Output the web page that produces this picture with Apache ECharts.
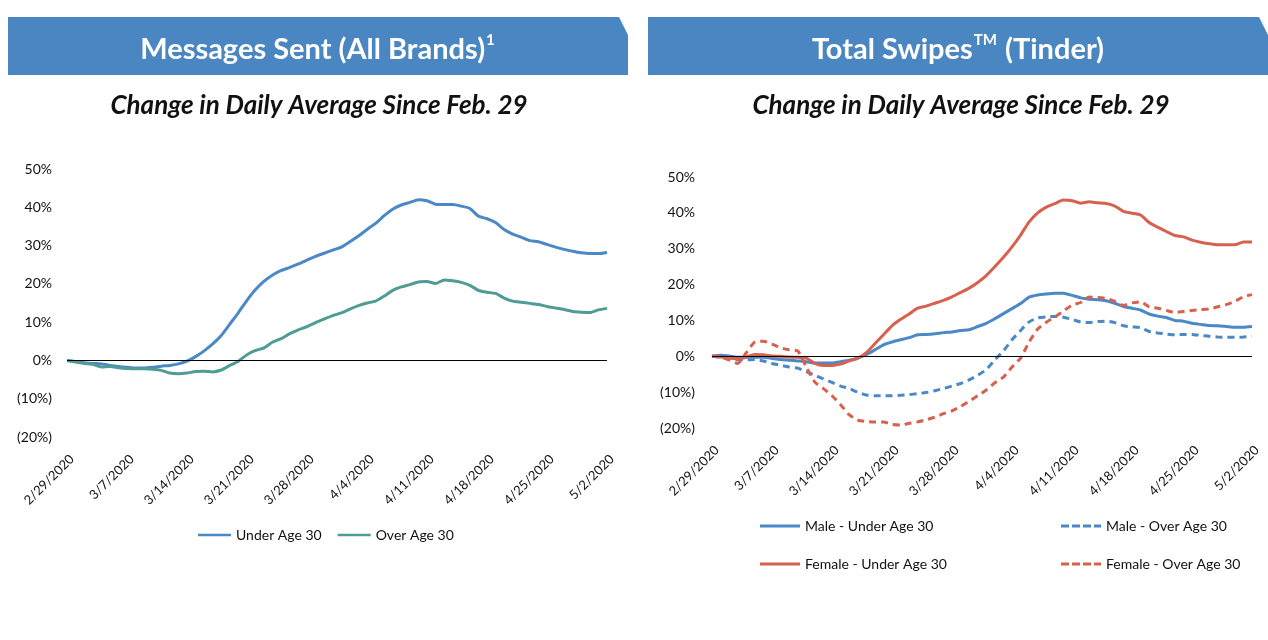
<!DOCTYPE html>
<html>
<head>
<meta charset="utf-8">
<script src="https://cdn.jsdelivr.net/npm/echarts@6/dist/echarts.min.js"></script>
<style>
html,body{margin:0;padding:0;background:#fff;}
#c{width:1268px;height:640px;}
</style>
</head>
<body>
<div id="c"></div>
<script>
// ---- Categories (daily, 2/29/2020 - 5/2/2020) ----
const dates = ['2/29/2020',
'3/1/2020','3/2/2020','3/3/2020','3/4/2020','3/5/2020','3/6/2020','3/7/2020','3/8/2020','3/9/2020','3/10/2020',
'3/11/2020','3/12/2020','3/13/2020','3/14/2020','3/15/2020','3/16/2020','3/17/2020','3/18/2020','3/19/2020','3/20/2020',
'3/21/2020','3/22/2020','3/23/2020','3/24/2020','3/25/2020','3/26/2020','3/27/2020','3/28/2020','3/29/2020','3/30/2020','3/31/2020',
'4/1/2020','4/2/2020','4/3/2020','4/4/2020','4/5/2020','4/6/2020','4/7/2020','4/8/2020','4/9/2020','4/10/2020',
'4/11/2020','4/12/2020','4/13/2020','4/14/2020','4/15/2020','4/16/2020','4/17/2020','4/18/2020','4/19/2020','4/20/2020',
'4/21/2020','4/22/2020','4/23/2020','4/24/2020','4/25/2020','4/26/2020','4/27/2020','4/28/2020','4/29/2020','4/30/2020',
'5/1/2020','5/2/2020'];

// ---- Messages Sent (All Brands), % change ----
const msgUnder30 = [0,-0.3,-0.6,-0.8,-0.9,-1.3,-1.6,-1.8,-2.0,-2.0,
-1.8,-1.5,-1.3,-0.9,-0.2,1.0,2.5,4.3,6.5,9.5,
12.5,15.7,18.5,20.7,22.3,23.5,24.3,25.2,26.2,27.2,
28.0,28.8,29.6,31.0,32.5,34.2,35.8,37.8,39.5,40.6,
41.3,42.0,41.7,40.8,40.7,40.7,40.3,39.7,37.7,37.0,
36.0,34.2,33.0,32.2,31.3,31.0,30.3,29.6,29.0,28.5,
28.1,27.9,27.9,28.2];
const msgOver30 = [0,-0.4,-0.8,-1.0,-1.7,-1.6,-1.9,-2.1,-2.2,-2.2,
-2.3,-2.6,-3.3,-3.5,-3.3,-2.9,-2.8,-3.0,-2.5,-1.3,
-0.2,1.5,2.6,3.3,4.8,5.7,7.0,8.0,8.8,9.9,
10.8,11.7,12.4,13.4,14.3,15.0,15.5,16.8,18.3,19.2,
19.8,20.5,20.6,20.1,21.0,20.8,20.4,19.6,18.3,17.8,
17.5,16.3,15.5,15.2,14.9,14.6,14.1,13.7,13.3,12.8,
12.6,12.5,13.2,13.6];

// ---- Total Swipes (Tinder), % change ----
const maleUnder30 = [0,0.3,0.1,-0.3,-0.3,-0.3,-0.3,-0.6,-0.9,-1.1,
-1.3,-1.5,-1.9,-1.9,-1.9,-1.5,-1.1,-0.5,0.5,1.8,
3.2,4.0,4.6,5.2,6.0,6.1,6.3,6.6,6.8,7.2,
7.4,8.3,9.2,10.5,11.9,13.3,14.7,16.5,17.1,17.4,
17.6,17.6,17.0,16.3,15.9,15.8,15.5,14.8,13.9,13.4,
12.9,11.8,11.2,10.8,10.0,9.8,9.2,8.9,8.6,8.5,
8.3,8.1,8.1,8.3];
const maleOver30 = [0,-0.3,-0.6,-1.0,-1.0,-0.9,-1.3,-2.0,-2.5,-3.0,
-3.3,-4.3,-5.3,-6.3,-7.3,-8.3,-9.0,-10.0,-10.8,-11.0,
-11.0,-11.0,-10.9,-10.7,-10.4,-10.1,-9.6,-9.0,-8.3,-7.6,
-6.6,-5.3,-3.7,-1.0,1.5,4.6,7.2,9.6,10.7,11.0,
11.1,10.9,10.3,9.6,9.4,9.7,9.8,9.4,8.5,8.2,
8.0,6.9,6.5,6.2,6.0,6.1,6.1,5.8,5.6,5.4,
5.3,5.3,5.4,5.6];
const femaleUnder30 = [0,-0.2,-0.5,-0.8,-0.2,0.5,0.4,0.1,0,-0.2,
-0.3,-0.5,-2.0,-2.6,-2.6,-2.2,-1.3,-0.6,1.0,3.5,
6.0,8.5,10.3,11.8,13.4,14.0,14.8,15.6,16.6,17.8,
19.0,20.6,22.5,25.0,27.6,30.5,33.8,37.5,40.0,41.6,
42.6,43.6,43.4,42.7,43.1,42.8,42.6,41.9,40.4,39.9,
39.4,37.3,36.0,34.8,33.7,33.3,32.4,31.8,31.4,31.1,
31.1,31.1,31.9,31.9];
const femaleOver30 = [0,-0.2,-1.0,-2.0,1.0,4.0,4.2,3.4,2.4,1.8,
1.5,-3.0,-7.2,-9.0,-11.0,-13.5,-16.3,-17.8,-18.2,-18.3,
-18.3,-19.0,-19.2,-18.7,-18.3,-17.7,-17.0,-16.0,-15.2,-14.0,
-12.5,-11.0,-9.4,-7.4,-5.8,-3.0,-0.5,4.0,7.6,9.5,
11.0,12.6,14.3,15.0,16.5,16.4,16.1,15.3,14.2,14.9,
15.2,13.8,13.4,12.8,12.2,12.5,12.8,13.0,13.2,13.8,
14.4,15.3,16.6,17.2];

const yTicks = {min: -20, max: 50, interval: 10};

const BLUE = '#4a88c6', TEAL = '#4f9b96', RED = '#d8604f', BANNER = '#4a87c2';
const FONT = 'Lato, "Open Sans", sans-serif';
const SOLID_ICON = 'path://M0,0h40v3h-40z';
const DASH_ICON = 'path://M0,0h8v3h-8zM11,0h8v3h-8zM22,0h8v3h-8zM33,0h7v3h-7z';

function pctFmt(v){ return v < 0 ? '(' + Math.abs(v) + '%)' : v + '%'; }

function yAxis(idx, margin){
  return {type:'value', gridIndex:idx, min:yTicks.min, max:yTicks.max, interval:yTicks.interval,
    splitLine:{show:false}, axisLine:{show:false}, axisTick:{show:false},
    axisLabel:{formatter:pctFmt, color:'#111', fontSize:14, fontFamily:FONT, margin:margin}};
}
function xAxis(idx){
  return {type:'category', gridIndex:idx, data:dates, boundaryGap:false,
    axisLine:{show:false, onZero:false}, axisTick:{show:false},
    axisLabel:{interval:6, rotate:45, color:'#111', fontSize:13, fontFamily:FONT, margin:15,
      verticalAlign:'top', lineHeight:14}};
}
const zeroLine = {symbol:['none','none'], silent:true, animation:false,
  label:{show:false}, lineStyle:{color:'#000', width:1, type:'solid'}, data:[{yAxis:0}]};

function line(name, data, color, dashed, idx, withZero){
  const s = {name, type:'line', data, xAxisIndex:idx, yAxisIndex:idx, symbol:'none', smooth:0.2,
    lineStyle:{color, width:3, type: dashed ? [7,5] : 'solid'}, itemStyle:{color}, animation:false};
  if (withZero) s.markLine = zeroLine;
  return s;
}

const legendBase = {itemWidth:40, itemHeight:3, itemStyle:{borderWidth:0},
  textStyle:{fontSize:14, fontFamily:FONT, color:'#111'}, selectedMode:false};

// ---- Banner titles with superscripts (measured so each title stays centred) ----
const mctx = document.createElement('canvas').getContext('2d');
function tw(text, size){ mctx.font = 'bold ' + size + 'px ' + FONT; return mctx.measureText(text).width; }
const T_SIZE = 29, S_SIZE = 15, T_Y = 50, S_Y = 40;
function titleParts(cx, parts){
  const widths = parts.map(p => tw(p.t, p.sup ? S_SIZE : T_SIZE) + (p.sup ? 2 : 0));
  const total = widths.reduce((a,b)=>a+b,0);
  let x = cx - total/2;
  const out = [];
  parts.forEach((p,i) => {
    out.push({type:'text', x: x + (p.sup ? 1 : 0), y: p.sup ? S_Y : T_Y, silent:true, z:10,
      style:{text:p.t, align:'left', verticalAlign:'middle', fontSize: p.sup ? S_SIZE : T_SIZE,
        fontWeight:'bold', fill:'#fff', fontFamily:FONT}});
    x += widths[i];
  });
  return out;
}

const chart = echarts.init(document.getElementById('c'), null, {renderer:'canvas'});
chart.setOption({
  backgroundColor:'#fff',
  animation:false,
  grid:[
    {left:67, right:661, top:169, bottom:203},
    {left:712, right:16, top:177, bottom:212}
  ],
  xAxis:[xAxis(0), xAxis(1)],
  yAxis:[yAxis(0,15), yAxis(1,17)],
  legend:[
    Object.assign({}, legendBase, {data:[{name:'Under Age 30', icon:SOLID_ICON},{name:'Over Age 30', icon:SOLID_ICON}],
      left:193, top:523, itemGap:16, itemWidth:33}),
    Object.assign({}, legendBase, {data:[{name:'Male - Under Age 30', icon:SOLID_ICON}], left:755, top:514}),
    Object.assign({}, legendBase, {data:[{name:'Male - Over Age 30', icon:DASH_ICON}], left:1056, top:514}),
    Object.assign({}, legendBase, {data:[{name:'Female - Under Age 30', icon:SOLID_ICON}], left:755, top:552}),
    Object.assign({}, legendBase, {data:[{name:'Female - Over Age 30', icon:DASH_ICON}], left:1056, top:552})
  ],
  graphic:[
    {type:'polygon', shape:{points:[[8,17],[619,17],[628,35],[628,75],[8,75]]}, style:{fill:BANNER}, silent:true},
    {type:'polygon', shape:{points:[[648,17],[1259,17],[1268,35],[1268,75],[648,75]]}, style:{fill:BANNER}, silent:true},
    ...titleParts(318, [{t:'Messages Sent (All Brands)'}, {t:'1', sup:true}]),
    ...titleParts(958, [{t:'Total Swipes'}, {t:'TM', sup:true}, {t:' (Tinder)'}]),
    {type:'text', x:319, y:106, silent:true, style:{text:'Change in Daily Average Since Feb. 29', align:'center', verticalAlign:'middle',
      fontSize:26, fontWeight:'bold', fontStyle:'italic', fill:'#111', fontFamily:FONT}},
    {type:'text', x:961, y:106, silent:true, style:{text:'Change in Daily Average Since Feb. 29', align:'center', verticalAlign:'middle',
      fontSize:26, fontWeight:'bold', fontStyle:'italic', fill:'#111', fontFamily:FONT}}
  ],
  series:[
    line('Under Age 30', msgUnder30, BLUE, false, 0, true),
    line('Over Age 30', msgOver30, TEAL, false, 0, false),
    line('Male - Under Age 30', maleUnder30, BLUE, false, 1, true),
    line('Male - Over Age 30', maleOver30, BLUE, true, 1, false),
    line('Female - Under Age 30', femaleUnder30, RED, false, 1, false),
    line('Female - Over Age 30', femaleOver30, RED, true, 1, false)
  ]
});
</script>
</body>
</html>
